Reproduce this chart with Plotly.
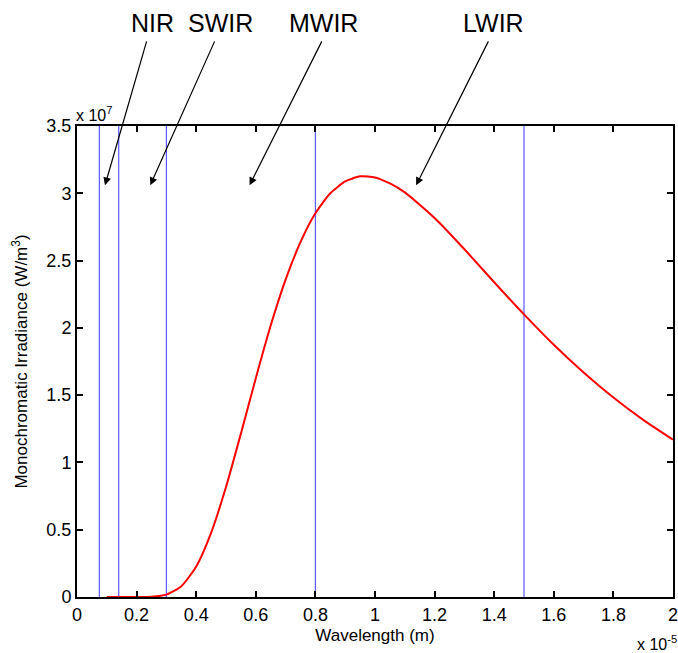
import plotly.graph_objects as go

# wavelength in units of 1e-5 m, irradiance in units of 1e7 W/m^3
WAVELENGTH = [0.10, 0.15, 0.20, 0.25, 0.30, 0.35, 0.40, 0.45, 0.50, 0.55,
              0.60, 0.65, 0.70, 0.75, 0.80, 0.85, 0.90, 0.95, 1.00, 1.05,
              1.10, 1.20, 1.30, 1.40, 1.50, 1.60, 1.70, 1.80, 1.90, 2.00]
IRRADIANCE = [0.0, 0.0, 0.0, 0.002, 0.0175, 0.080, 0.227, 0.477, 0.817, 1.214,
              1.626, 2.017, 2.358, 2.637, 2.851, 3.000, 3.088, 3.126, 3.118, 3.073,
              3.007, 2.816, 2.584, 2.339, 2.100, 1.874, 1.668, 1.482, 1.316, 1.169]

# band boundaries (x 1e-5 m)
BOUNDARIES = [0.075, 0.14, 0.30, 0.80, 1.50]

BAND_LABELS = ["NIR", "SWIR", "MWIR", "LWIR"]
ARROW_TIP_X = [0.094, 0.246, 0.579, 1.138]
ARROW_TAIL_X = [0.235, 0.464, 0.824, 1.383]
LABEL_X = [0.253, 0.483, 0.826, 1.397]

FONT = "Liberation Sans, Arial, sans-serif"

fig = go.Figure()

for b in BOUNDARIES:
    fig.add_trace(go.Scatter(
        x=[b, b], y=[0, 3.5], mode="lines",
        line=dict(color="#5a5aff", width=1.2),
        showlegend=False, hoverinfo="skip"
    ))

fig.add_trace(go.Scatter(
    x=WAVELENGTH, y=IRRADIANCE, mode="lines",
    line=dict(color="#ff0000", width=2, shape="spline", smoothing=0.6),
    showlegend=False
))

annotations = []
for label, tip, tail, lx in zip(BAND_LABELS, ARROW_TIP_X, ARROW_TAIL_X, LABEL_X):
    annotations.append(dict(
        x=tip, y=3.06, xref="x", yref="y",
        ax=tail, ay=4.14, axref="x", ayref="y",
        text="", showarrow=True, arrowhead=2, arrowsize=1.3,
        arrowwidth=1.2, arrowcolor="#000000"
    ))
    annotations.append(dict(
        x=lx / 2, y=1.219, xref="paper", yref="paper",
        text=label, showarrow=False, yanchor="middle", xanchor="center",
        font=dict(size=25, color="#000000", family=FONT)
    ))

annotations.append(dict(
    x=0, y=1, xref="paper", yref="paper", xanchor="left", yanchor="bottom",
    xshift=-3, yshift=0, text="x 10<sup>7</sup>", showarrow=False,
    font=dict(size=16, color="#000000", family=FONT)
))
annotations.append(dict(
    x=1, y=0, xref="paper", yref="paper", xanchor="right", yanchor="top",
    xshift=6, yshift=-34, text="x 10<sup>-5</sup>", showarrow=False,
    font=dict(size=16, color="#000000", family=FONT)
))

axis_common = dict(
    showline=True, linecolor="#000000", linewidth=2, mirror="ticks",
    ticks="inside", ticklen=6, tickwidth=1.5, tickcolor="#000000",
    showgrid=False, zeroline=False, automargin=False,
    ticklabeloverflow="allow",
    tickfont=dict(size=18, color="#000000", family=FONT)
)

fig.update_layout(
    width=678, height=653,
    paper_bgcolor="#ffffff", plot_bgcolor="#ffffff",
    margin=dict(l=77, r=5, t=126, b=56),
    font=dict(family=FONT, color="#000000"),
    xaxis=dict(
        range=[0, 2], tickvals=[0, 0.2, 0.4, 0.6, 0.8, 1, 1.2, 1.4, 1.6, 1.8, 2],
        ticktext=["0", "0.2", "0.4", "0.6", "0.8", "1", "1.2", "1.4", "1.6", "1.8", "2"],
        title=dict(text="Wavelength (m)", font=dict(size=17, family=FONT), standoff=6),
        **axis_common
    ),
    yaxis=dict(
        range=[0, 3.5], tickvals=[0, 0.5, 1, 1.5, 2, 2.5, 3, 3.5],
        ticktext=["0", "0.5", "1", "1.5", "2", "2.5", "3", "3.5"],
        title=dict(text="Monochromatic Irradiance (W/m<sup>3</sup>)",
                   font=dict(size=17, family=FONT), standoff=14),
        **axis_common
    ),
    annotations=annotations
)

# drop the default page margin so the 678x653 figure fills the window exactly
fig.write_html("out.html", config={"displayModeBar": False},
               post_script="document.body.style.margin='0';")
